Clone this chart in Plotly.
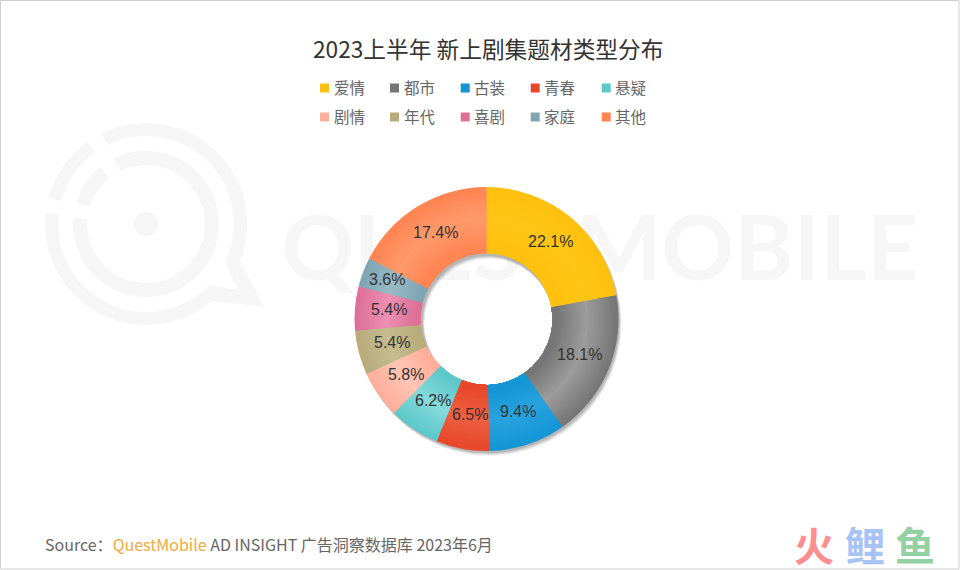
import numpy as np
import plotly.graph_objects as go

# Data
categories = ['爱情', '都市', '古装', '青春', '悬疑', '剧情', '年代', '喜剧', '家庭', '其他']
shares = [22.1, 18.1, 9.4, 6.5, 6.2, 5.8, 5.4, 5.4, 3.6, 17.4]

edge_colors = ['#FFC00F', '#767676', '#1496D4', '#E8472A', '#5CC8CA',
               '#FFAE9A', '#B8AC7C', '#DE6F98', '#7FA5B4', '#FF8552']
mid_colors = ['#FFC615', '#9C9C9C', '#28A4E0', '#EE6040', '#86DADA',
              '#FFC6B6', '#C6BC90', '#EC90B2', '#98BAC6', '#FF9A6C']

title_text = '2023上半年 新上剧集题材类型分布'
watermark_text = 'QUESTMOBILE'

W, H = 960, 570
cx, cy = 486.5, 319
r_out, r_in = 132, 66

font_cjk = 'Noto Sans CJK SC'


def mix(a, b, t):
    a = [int(a[i:i + 2], 16) for i in (1, 3, 5)]
    b = [int(b[i:i + 2], 16) for i in (1, 3, 5)]
    return 'rgb(%d,%d,%d)' % tuple(a[i] + (b[i] - a[i]) * t for i in range(3))


def ring_domain(r):
    return dict(x=[(cx - r) / W, (cx + r) / W], y=[1 - (cy + r) / H, 1 - (cy - r) / H])


def arc(r, a0, a1, c=(146, 224)):
    # points along a circle, angles in degrees, y pointing up
    t = np.radians(np.linspace(a0, a1, 60))
    return [(c[0] + r * np.cos(v), c[1] - r * np.sin(v)) for v in t]


def to_path(pts):
    return 'M' + 'L'.join('%.1f,%.1f' % p for p in pts) + 'Z'


fig = go.Figure()

# watermark word sits on hidden axes so the pie stays on top of it
fig.add_trace(go.Scatter(
    x=[600], y=[257], mode='text', text=[watermark_text],
    textfont=dict(family='Lato', size=90, color='#F6F6F6', weight=700),
    hoverinfo='skip', showlegend=False,
))

# soft drop shadow of the ring, one keyhole polygon per layer
t = np.linspace(0, 2 * np.pi, 180)
for off, op in [(5, 0.05), (4, 0.07), (3, 0.09), (2, 0.1)]:
    sx = np.concatenate([r_out * np.cos(t), (r_in - 1) * np.cos(t[::-1])]) + cx + off * 0.6
    sy = np.concatenate([r_out * np.sin(t), (r_in - 1) * np.sin(t[::-1])]) + cy + off
    fig.add_trace(go.Scatter(
        x=sx, y=sy, mode='lines', line=dict(width=0), fill='toself',
        fillcolor='rgba(0,0,0,%s)' % op, hoverinfo='skip', showlegend=False,
    ))

# radial shading, largest pie first, each smaller one painted over it
steps = 23
for i in range(steps):
    k = i / (steps - 1)
    r = r_out - (r_out - r_in) * 0.92 * k
    shade = 1 - abs(2 * k - 1)
    fig.add_trace(go.Pie(
        labels=categories, values=shares, sort=False, direction='clockwise', rotation=0,
        domain=ring_domain(r), hole=r_in / r,
        marker=dict(colors=[mix(e, m, shade) for e, m in zip(edge_colors, mid_colors)],
                    line=dict(width=0)),
        textinfo='none', hoverinfo='skip', showlegend=False,
    ))

shapes = []

# border
shapes.append(dict(type='rect', xref='x', yref='y', x0=0.5, x1=959, y0=0.5, y1=569,
                   line=dict(color='#CFCFCF', width=1), layer='below'))

# watermark logo
wm = '#F6F6F6'
big_ring = (arc(101, 116, -21.6) + [(263.3, 306.7)] + arc(101, -49.5, -186)
            + arc(88, -186, -44) + [(238.3, 290)] + arc(88, -26, 116))
logo = [
    big_ring,
    arc(101, 164.9, 125.6) + arc(88, 125.6, 164.9),
    arc(73, 116, -185) + arc(59, -185, 116),
    arc(73, 163, 128.7) + arc(59, 128.7, 163),
    arc(12, 0, 360),
]
for pts in logo:
    shapes.append(dict(type='path', xref='x', yref='y', path=to_path(pts),
                       fillcolor=wm, line=dict(width=0), layer='below'))

# legend drawn by hand: two rows of five
legend_x = [320, 390, 460.7, 530.7, 601.7]
legend_y = [88, 117]
annotations = []
for i, name in enumerate(categories):
    x = legend_x[i % 5]
    y = legend_y[i // 5]
    shapes.append(dict(type='rect', xref='x', yref='y', x0=x, x1=x + 9, y0=y - 4.5, y1=y + 4.5,
                       fillcolor=edge_colors[i], line=dict(width=0), layer='above'))
    annotations.append(dict(text=name, xref='x', yref='y', x=x + 11.5, y=y - 1.5, xanchor='left', yanchor='middle',
                            showarrow=False, font=dict(family=font_cjk, size=15.5, color='#666666')))

# percentage labels follow the slices; the thin 家庭 slice pushes its label outward
cum = np.cumsum(shares)
total = cum[-1]
for i, v in enumerate(shares):
    ang = 2 * np.pi * (cum[i] - v / 2) / total
    rad = 108 if categories[i] == '家庭' else 99
    annotations.append(dict(
        text='%.1f%%' % v, xref='x', yref='y',
        x=cx + rad * np.sin(ang) + 1, y=cy - rad * np.cos(ang) - 1.5, showarrow=False,
        font=dict(family='Liberation Sans', size=16, color='#333333')))

annotations.append(dict(text=title_text, xref='x', yref='y', x=488, y=48.5, showarrow=False,
                        font=dict(family=font_cjk, size=22.7, color='#333333')))
annotations.append(dict(
    text='Source：<span style="color:#F5A83C">QuestMobile</span> AD INSIGHT 广告洞察数据库 2023年6月',
    xref='x', yref='y', x=43, y=544, xanchor='left', showarrow=False,
    font=dict(family=font_cjk, size=16, color='#666666')))

# brand mark bottom right
for ch, col, x in [('火', '#FF8E90', 813.5), ('鲤', '#A8C4F6', 865), ('鱼', '#93D0A4', 915)]:
    annotations.append(dict(text='<b>%s</b>' % ch, xref='x', yref='y', x=x, y=543.5, showarrow=False,
                            font=dict(family=font_cjk, size=40, color=col)))

fig.update_layout(
    width=W, height=H, margin=dict(l=0, r=0, t=0, b=0),
    paper_bgcolor='white', plot_bgcolor='rgba(0,0,0,0)',
    xaxis=dict(range=[0, W], visible=False, domain=[0, 1]),
    yaxis=dict(range=[H, 0], visible=False, domain=[0, 1]),
    shapes=shapes, annotations=annotations, showlegend=False,
)

# the browser's default body margin would push the chart off by 8px
fig.write_html('out.html', config=dict(displayModeBar=False),
               post_script="document.body.style.margin='0';")
